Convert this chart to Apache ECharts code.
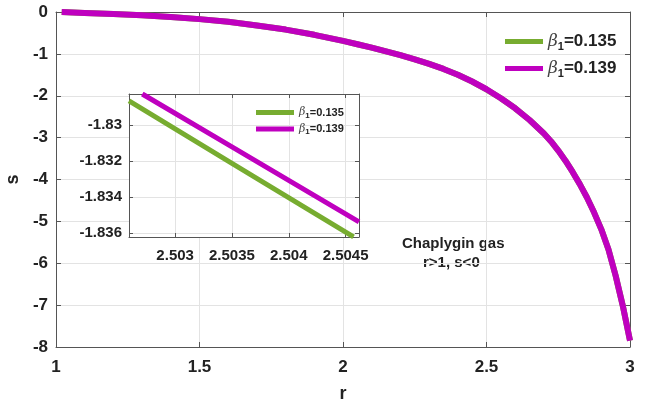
<!DOCTYPE html>
<html>
<head>
<meta charset="utf-8">
<script src="https://cdn.jsdelivr.net/npm/echarts@6/dist/echarts.min.js"></script>
<style>html,body{margin:0;padding:0;background:#fff}#c{width:648px;height:401px}</style>
</head>
<body>
<div id="c"></div>
<script>
// main panel data (r, s)
const mainR = [1.02, 1.1, 1.2, 1.3, 1.4, 1.5, 1.6, 1.7, 1.8, 1.9, 2.0, 2.05, 2.1, 2.15, 2.2, 2.25, 2.3, 2.35, 2.4, 2.45, 2.5, 2.55, 2.6, 2.65, 2.7, 2.725, 2.75, 2.775, 2.8, 2.825, 2.85, 2.875, 2.9, 2.925, 2.95, 2.975, 3.0];
const mainS135 = [0.0, -0.025, -0.05, -0.08, -0.12, -0.17, -0.235, -0.32, -0.42, -0.545, -0.69, -0.77, -0.85, -0.94, -1.03, -1.13, -1.24, -1.36, -1.50, -1.66, -1.85, -2.06, -2.30, -2.58, -2.90, -3.09, -3.31, -3.55, -3.82, -4.11, -4.43, -4.79, -5.19, -5.67, -6.30, -7.02, -7.85];
const mainS139 = [0.0, -0.025, -0.05, -0.08, -0.12, -0.17, -0.235, -0.32, -0.42, -0.545, -0.69, -0.77, -0.85, -0.94, -1.03, -1.13, -1.24, -1.36, -1.50, -1.66, -1.845, -2.06, -2.30, -2.58, -2.90, -3.09, -3.31, -3.55, -3.82, -4.11, -4.43, -4.79, -5.19, -5.67, -6.30, -7.02, -7.85];
// inset data
const insetR135 = [2.502594, 2.5035, 2.504570];
const insetS135 = [-1.828667, -1.832123, -1.836206];
const insetR139 = [2.502711, 2.5035, 2.504618];
const insetS139 = [-1.82828, -1.831215, -1.835372];
// ticks
const mainXTicks = [1, 1.5, 2, 2.5, 3];
const mainYTicks = [0, -1, -2, -3, -4, -5, -6, -7, -8];
const insetXTicks = [2.503, 2.5035, 2.504, 2.5045];
const insetYTicks = [-1.836, -1.834, -1.832, -1.83];
const names = ['β1=0.135', 'β1=0.139'];
const green = '#77ac30', magenta = '#bf00bf';

const zip = (a, b) => a.map((v, i) => [v, b[i]]);
const axisCol = '#555';
const txtCol = '#222';
const font = 'Liberation Sans, Arial, sans-serif';

function legendFmt(n) {
  return '{b|β}{s|1}{n|' + n.replace('β1', '') + '}';
}

const chart = echarts.init(document.getElementById('c'), null, {renderer: 'canvas'});
const baseAxis = {
  axisLine: {show: true, onZero: false, lineStyle: {color: axisCol, width: 1}},
  axisTick: {show: true, inside: true, length: 5, lineStyle: {color: axisCol}},
};
chart.setOption({
  animation: false,
  backgroundColor: '#fff',
  grid: [
    {left: 56, top: 12, width: 574, height: 335, outerBoundsMode: 'none', containLabel: false},
    {left: 129, top: 94, width: 230, height: 143, show: true, backgroundColor: '#fff', borderWidth: 0, zlevel: 1,
      outerBoundsMode: 'none', containLabel: false}
  ],
  xAxis: [
    Object.assign({}, baseAxis, {type: 'value', gridIndex: 0, min: 1, max: 3, interval: 0.5, position: 'bottom',
      name: 'r', nameLocation: 'middle', nameGap: 38,
      nameTextStyle: {fontFamily: font, fontWeight: 'bold', fontSize: 18, color: txtCol},
      axisLabel: {margin: 12, fontFamily: font, fontWeight: 'bold', fontSize: 17, color: txtCol},
      splitLine: {show: true, lineStyle: {color: '#e3e3e3'}}}),
    Object.assign({}, baseAxis, {type: 'value', gridIndex: 0, min: 1, max: 3, interval: 0.5, position: 'top',
      axisLabel: {show: false}, splitLine: {show: false}}),
    Object.assign({}, baseAxis, {type: 'value', gridIndex: 1, min: 2.502594, max: 2.504618, position: 'bottom', zlevel: 1,
      axisTick: {show: true, inside: true, length: 4, lineStyle: {color: axisCol}, customValues: insetXTicks},
      axisLabel: {margin: 11, fontFamily: font, fontWeight: 'bold', fontSize: 15, color: txtCol, customValues: insetXTicks,
        formatter: v => String(+v.toFixed(4))},
      splitLine: {show: true, lineStyle: {color: '#e3e3e3'}}}),
    Object.assign({}, baseAxis, {type: 'value', gridIndex: 1, min: 2.502594, max: 2.504618, position: 'top', zlevel: 1,
      axisTick: {show: true, inside: true, length: 4, lineStyle: {color: axisCol}, customValues: insetXTicks},
      axisLabel: {show: false}, splitLine: {show: false}})
  ],
  yAxis: [
    Object.assign({}, baseAxis, {type: 'value', gridIndex: 0, min: -8, max: 0, interval: 1, position: 'left',
      name: 's', nameLocation: 'middle', nameGap: 31, nameRotate: 90,
      nameTextStyle: {fontFamily: font, fontWeight: 'bold', fontSize: 18, color: txtCol},
      axisLabel: {margin: 8, fontFamily: font, fontWeight: 'bold', fontSize: 17, color: txtCol},
      splitLine: {show: true, lineStyle: {color: '#e3e3e3'}}}),
    Object.assign({}, baseAxis, {type: 'value', gridIndex: 0, min: -8, max: 0, interval: 1, position: 'right',
      axisLabel: {show: false}, splitLine: {show: false}}),
    Object.assign({}, baseAxis, {type: 'value', gridIndex: 1, min: -1.83621, max: -1.82828, position: 'left', zlevel: 1,
      axisTick: {show: true, inside: true, length: 4, lineStyle: {color: axisCol}, customValues: insetYTicks},
      axisLabel: {margin: 7, fontFamily: font, fontWeight: 'bold', fontSize: 15, color: txtCol, customValues: insetYTicks,
        formatter: v => String(+v.toFixed(3))},
      splitLine: {show: true, lineStyle: {color: '#e3e3e3'}}}),
    Object.assign({}, baseAxis, {type: 'value', gridIndex: 1, min: -1.83621, max: -1.82828, position: 'right', zlevel: 1,
      axisTick: {show: true, inside: true, length: 4, lineStyle: {color: axisCol}, customValues: insetYTicks},
      axisLabel: {show: false}, splitLine: {show: false}})
  ],
  legend: [
    {data: names, orient: 'vertical', left: 500, top: 28, itemWidth: 38, itemHeight: 5, itemGap: 8, icon: 'rect',
      formatter: legendFmt,
      textStyle: {color: txtCol, rich: {
        b: {fontFamily: 'DejaVu Serif, serif', fontStyle: 'italic', fontSize: 17, color: '#444'},
        s: {fontFamily: font, fontWeight: 'bold', fontSize: 11, verticalAlign: 'bottom', padding: [10, 0, 0, 0], color: txtCol},
        n: {fontFamily: font, fontWeight: 'bold', fontSize: 17, color: txtCol}}}},
    {data: names, orient: 'vertical', left: 251, top: 102, itemWidth: 38, itemHeight: 5, itemGap: 4, icon: 'rect', zlevel: 1,
      formatter: legendFmt,
      textStyle: {color: txtCol, rich: {
        b: {fontFamily: 'DejaVu Serif, serif', fontStyle: 'italic', fontSize: 11, color: '#444'},
        s: {fontFamily: font, fontWeight: 'bold', fontSize: 8, verticalAlign: 'bottom', padding: [6, 0, 0, 0], color: txtCol},
        n: {fontFamily: font, fontWeight: 'bold', fontSize: 11, color: txtCol}}}}
  ],
  series: [
    {name: names[0], type: 'line', xAxisIndex: 0, yAxisIndex: 0, data: zip(mainR, mainS135), showSymbol: false,
      smooth: false, lineStyle: {color: green, width: 6, join: 'round'}, itemStyle: {color: green}},
    {name: names[1], type: 'line', xAxisIndex: 0, yAxisIndex: 0, data: zip(mainR, mainS139), showSymbol: false,
      smooth: false, lineStyle: {color: magenta, width: 6, join: 'round'}, itemStyle: {color: magenta}},
    {name: names[0], type: 'line', xAxisIndex: 2, yAxisIndex: 2, data: zip(insetR135, insetS135), showSymbol: false, zlevel: 1,
      lineStyle: {color: green, width: 5}, itemStyle: {color: green}},
    {name: names[1], type: 'line', xAxisIndex: 2, yAxisIndex: 2, data: zip(insetR139, insetS139), showSymbol: false, zlevel: 1,
      lineStyle: {color: magenta, width: 5}, itemStyle: {color: magenta}}
  ],
  graphic: [
    {type: 'text', left: 402, top: 236, style: {text: 'Chaplygin gas', font: 'bold 15px ' + font, fill: txtCol}},
    {type: 'text', left: 423, top: 255, style: {text: 'r>1, s<0', font: 'bold 15px ' + font, fill: txtCol}}
  ]
});
</script>
</body>
</html>
